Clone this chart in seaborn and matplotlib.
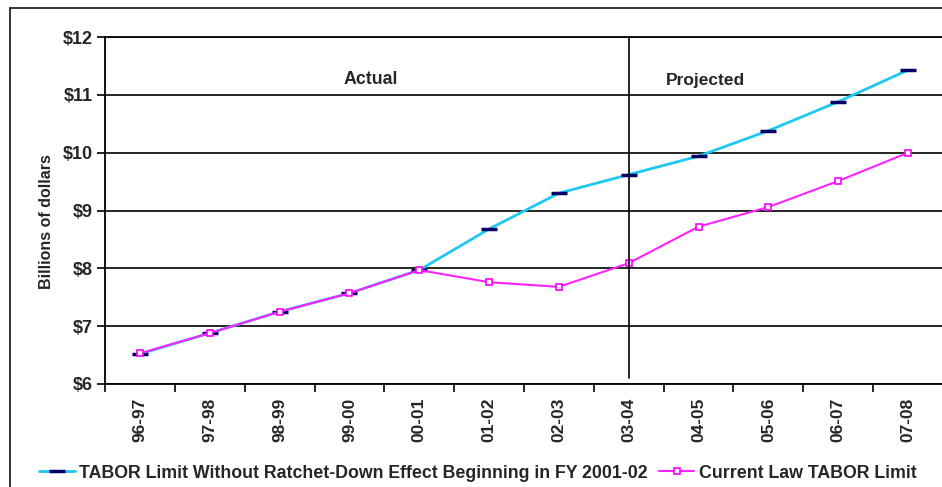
import matplotlib
matplotlib.use("Agg")
import matplotlib.pyplot as plt
import seaborn as sns
import pandas as pd
from matplotlib.patches import Rectangle
from matplotlib.ticker import FixedLocator

years = ["96-97", "97-98", "98-99", "99-00", "00-01", "01-02",
         "02-03", "03-04", "04-05", "05-06", "06-07", "07-08"]
no_ratchet = [6.52, 6.88, 7.25, 7.57, 7.97, 8.68, 9.30, 9.62, 9.94, 10.38, 10.88, 11.43]
current_law = [6.53, 6.88, 7.25, 7.57, 7.97, 7.76, 7.68, 8.09, 8.72, 9.06, 9.51, 10.00]
y_ticks = [6, 7, 8, 9, 10, 11, 12]

sns.set_style("white")
plt.rcParams['font.family'] = ['Liberation Sans', 'DejaVu Sans']
plt.rcParams['font.weight'] = 'bold'

df = pd.DataFrame({"year": years, "no_ratchet": no_ratchet, "current": current_law})
df["pos"] = range(len(years))

fig = plt.figure(figsize=(9.42, 4.87), dpi=100)
ax = fig.add_axes([0.1115, 0.2115, 0.8895, 0.7125])

# outer frame around the whole chart
fig.patches.append(Rectangle((10 / 942, -0.1), 1.2, 1 - 8 / 487 + 0.1,
                             transform=fig.transFigure, fill=False,
                             edgecolor="#222222", linewidth=1.3))

sns.lineplot(data=df, x="pos", y="no_ratchet", ax=ax, color="#1EC8F0",
             linewidth=2, marker="_", markersize=11, markeredgewidth=2.5,
             markeredgecolor="#000066",
             label="TABOR Limit Without Ratchet-Down Effect Beginning in FY 2001-02")
sns.lineplot(data=df, x="pos", y="current", ax=ax, color="#FF22FF",
             linewidth=1.5, marker="s", markersize=5, markeredgewidth=1.2,
             markerfacecolor="white", markeredgecolor="#FF00FF",
             label="Current Law TABOR Limit")

ax.set_xlim(-0.5, len(years) - 0.5)
ax.set_ylim(6, 12)
ax.set_yticks(y_ticks)
ax.set_yticklabels(["$%d" % v for v in y_ticks], fontsize=13, fontweight="bold")
ax.yaxis.grid(True, color="black", linewidth=1.2)
ax.set_axisbelow(True)

ax.set_xticks(df["pos"])
ax.set_xticklabels(years, rotation=90, fontsize=12.5, fontweight="bold")
ax.xaxis.set_minor_locator(FixedLocator([i - 0.5 for i in range(len(years) + 1)]))
ax.tick_params(axis="x", which="major", length=0, pad=10)
ax.tick_params(axis="x", which="minor", length=6, width=1.2, color="black", direction="out", bottom=True)
ax.tick_params(axis="y", length=6, width=1.2, color="black", direction="out", left=True, pad=3)

for s in ["left", "bottom", "top", "right"]:
    ax.spines[s].set_color("black")
    ax.spines[s].set_linewidth(1.3)

ax.plot([7, 7], [6.1, 12], color="black", linewidth=1.2)
ax.text(3.3, 11.12, "Actual", fontsize=12.8, fontweight="bold", ha="center", va="bottom")
ax.text(8.1, 11.12, "Projected", fontsize=12.5, fontweight="bold", ha="center", va="bottom")

ax.set_xlabel("")
ax.set_ylabel("Billions of dollars", fontsize=11.5, fontweight="bold")
ax.yaxis.set_label_coords(-0.061, 0.467)

ax.legend(loc="center", bbox_to_anchor=(478 / 942, 1 - 473 / 487),
          bbox_transform=fig.transFigure, ncol=2, frameon=False,
          fontsize=12.8, handlelength=2.0, handletextpad=0.25, columnspacing=0.6,
          borderaxespad=0, borderpad=0)

fig.savefig("out.png", dpi=100)
